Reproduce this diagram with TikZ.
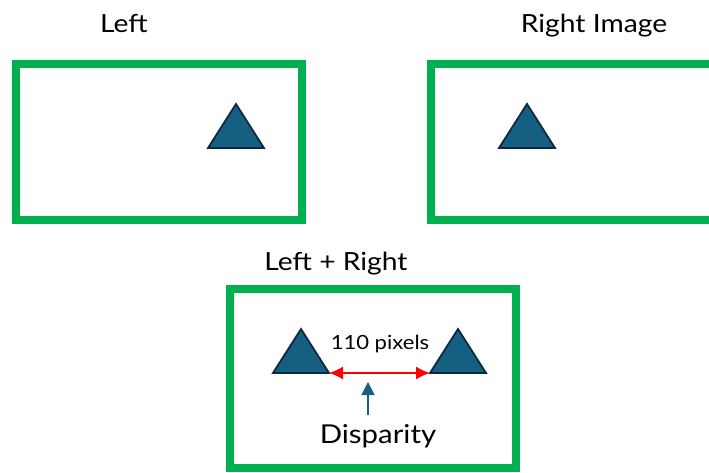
\documentclass[tikz,border=0pt]{standalone}
\usepackage{fontspec}
\setmainfont{Lato}[FakeStretch=1.13]
\usetikzlibrary{arrows.meta}
\definecolor{framegreen}{HTML}{00B050}
\definecolor{markfill}{HTML}{156082}
\definecolor{markline}{HTML}{0E2841}
\tikzset{
	frame/.style={draw=framegreen, line width=7.5pt, minimum width=286pt, inner sep=0pt},
	lbl/.style={font=\fontsize{25}{30}\selectfont, inner sep=0pt, anchor=base},
	marker/.pic={
		\draw[fill=markfill, draw=markline, line width=1.8pt, line join=miter]
		(-28,22) coordinate (-bl) -- (0,-22) coordinate (-top) -- (28,22) coordinate (-br) -- cycle;
	},
}

\begin{document}
\begin{tikzpicture}[x=1pt, y=-1pt]
	\useasboundingbox (0,0) rectangle (709,472);
	\clip (0,0) rectangle (709,472);
	% the two views
	\node[frame, minimum height=156pt] (lframe) at (159,142) {};
	\node[frame, minimum height=156pt] (rframe) at (574,142) {};
	\node[lbl] (ltitle) at (124,32) {Left};
	\node[lbl] (rtitle) at (594,32) {Right Image};
	\pic (lt) at (236,126) {marker};
	\pic (rt) at (527,126) {marker};
	% both views on top of each other
	\node[frame, minimum height=179pt] (mframe) at (373,378.5) {};
	\node[lbl] (mtitle) at (336,270) {Left + Right};
	\pic (ml) at (301,351) {marker};
	\pic (mr) at (458,351) {marker};
	\draw[red, line width=1.5pt, {Latex[length=14pt,width=13pt]}-{Latex[length=14pt,width=13pt]}] (ml-br) -- (mr-bl);
	\node[font=\fontsize{19.5}{22}\selectfont, inner sep=0pt, anchor=base] (dist) at (380,349) {110 pixels};
	\node[lbl, font=\fontsize{26}{30}\selectfont] (disp) at (378,443) {Disparity};
	\coordinate (dtip) at (368,382);
	\coordinate (dtail) at (368,415);
	\draw[markfill, line width=1.5pt, -{Triangle[length=13pt,width=13pt]}] (dtail) -- (dtip);
\end{tikzpicture}
\end{document}
